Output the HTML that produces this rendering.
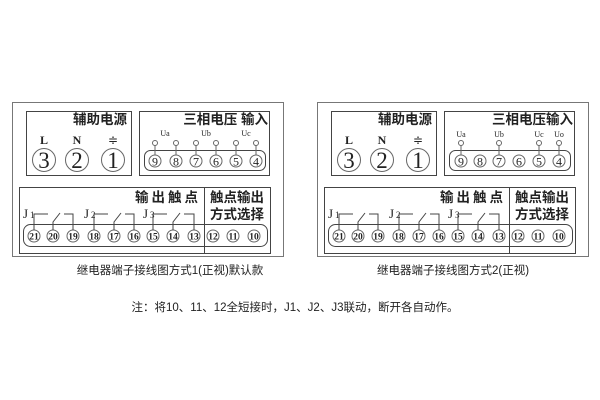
<!DOCTYPE html>
<html><head><meta charset="utf-8"><style>
body{margin:0;background:#fff;width:600px;height:400px;overflow:hidden}
svg{display:block}
text{font-family:"Liberation Serif","Noto Serif CJK SC",serif;fill:#222}
.c{font-family:"Liberation Sans","Noto Sans CJK SC",sans-serif;fill:#222}
</style></head><body>
<svg width="600" height="400" viewBox="0 0 600 400" stroke="#444" fill="none" stroke-width="1">
<defs>
<g id="D">
<rect x="12.5" y="102.5" width="271" height="154" stroke="#777"/>
<rect x="26.5" y="111.5" width="105" height="64"/>
<rect x="139.5" y="111.5" width="130" height="64"/>
<rect x="144.5" y="150.5" width="121" height="20" rx="6"/>
<rect x="19.5" y="187.5" width="251" height="66"/>
<line x1="204.5" y1="187.5" x2="204.5" y2="253.5"/>
<rect x="23.5" y="224.5" width="244" height="22" rx="7"/>
<g stroke="none">
<text class="c" x="127" y="124" font-size="13.5" font-weight="bold" text-anchor="end">辅助电源</text>
<text class="c" x="201" y="202" font-size="13.5" font-weight="bold" text-anchor="end" letter-spacing="3">输出触点</text>
<text class="c" x="237" y="202" font-size="13.5" font-weight="bold" text-anchor="middle">触点输出</text>
<text class="c" x="237" y="219" font-size="13.5" font-weight="bold" text-anchor="middle">方式选择</text>
<text x="44" y="144" font-size="12" font-weight="bold" text-anchor="middle">L</text>
<text x="77" y="144" font-size="12" font-weight="bold" text-anchor="middle">N</text>
<text x="113" y="144" font-size="12" text-anchor="middle">≑</text>
</g>
<g stroke="#666">
<circle cx="44" cy="160" r="11.5"/><circle cx="77" cy="160" r="11.5"/><circle cx="113" cy="160" r="11.5"/>
</g>
<g stroke="none" font-size="23" text-anchor="middle">
<text x="44" y="168">3</text><text x="77" y="168">2</text><text x="113" y="168">1</text>
</g>
<g stroke="#666">
<circle cx="34" cy="236" r="6"/><circle cx="53" cy="236" r="6"/><circle cx="73" cy="236" r="6"/>
<circle cx="94" cy="236" r="6"/><circle cx="114" cy="236" r="6"/><circle cx="134" cy="236" r="6"/>
<circle cx="153" cy="236" r="6"/><circle cx="173" cy="236" r="6"/><circle cx="194" cy="236" r="6"/>
<circle cx="213" cy="236" r="6"/><circle cx="233" cy="236" r="6"/><circle cx="254" cy="236" r="6"/>
</g>
<g stroke="none" font-size="9.5" font-weight="bold" text-anchor="middle">
<text x="34" y="239.5">21</text><text x="53" y="239.5">20</text><text x="73" y="239.5">19</text>
<text x="94" y="239.5">18</text><text x="114" y="239.5">17</text><text x="134" y="239.5">16</text>
<text x="153" y="239.5">15</text><text x="173" y="239.5">14</text><text x="194" y="239.5">13</text>
<text x="213" y="239.5">12</text><text x="233" y="239.5">11</text><text x="254" y="239.5">10</text>
</g>
<g stroke="none">
<text x="23" y="218" font-size="13">J</text><text x="30" y="218" font-size="9">1</text>
<text x="84" y="218" font-size="13">J</text><text x="91" y="218" font-size="9">2</text>
<text x="143" y="218" font-size="13">J</text><text x="150" y="218" font-size="9">3</text>
</g>
<path d="M34 230V214H48M53 230V222L60 213M64 214H73V230"/>
<path d="M94 230V214H108M114 230V222L121 213M125 214H134V230"/>
<path d="M153 230V214H167M173 230V222L180 213M184 214H194V230"/>
</g>
</defs>
<use href="#D"/>
<use href="#D" transform="translate(305,0)"/>
<!-- left voltage -->
<g stroke="#666">
<circle cx="155" cy="161" r="6"/><circle cx="176" cy="161" r="6"/><circle cx="196" cy="161" r="6"/>
<circle cx="216" cy="161" r="6"/><circle cx="236" cy="161" r="6"/><circle cx="256" cy="161" r="6"/>
<circle cx="155" cy="143" r="2.5"/><circle cx="176" cy="143" r="2.5"/><circle cx="196" cy="143" r="2.5"/>
<circle cx="216" cy="143" r="2.5"/><circle cx="236" cy="143" r="2.5"/><circle cx="256" cy="143" r="2.5"/>
<path d="M155 145.5V155M176 145.5V155M196 145.5V155M216 145.5V155M236 145.5V155M256 145.5V155"/>
</g>
<g stroke="none" text-anchor="middle">
<text x="165" y="136" font-size="8">Ua</text><text x="206" y="136" font-size="8">Ub</text><text x="246" y="136" font-size="8">Uc</text>
<text x="155" y="165.5" font-size="12">9</text><text x="176" y="165.5" font-size="12">8</text><text x="196" y="165.5" font-size="12">7</text>
<text x="216" y="165.5" font-size="12">6</text><text x="236" y="165.5" font-size="12">5</text><text x="256" y="165.5" font-size="12">4</text>
<text class="c" x="268" y="124" font-size="13.5" font-weight="bold" text-anchor="end">三相电压 输入</text>
</g>
<!-- right voltage -->
<g stroke="#666">
<circle cx="461" cy="161" r="6"/><circle cx="480" cy="161" r="6"/><circle cx="499" cy="161" r="6"/>
<circle cx="519" cy="161" r="6"/><circle cx="539" cy="161" r="6"/><circle cx="559" cy="161" r="6"/>
<circle cx="461" cy="143" r="2.5"/><circle cx="499" cy="143" r="2.5"/><circle cx="539" cy="143" r="2.5"/><circle cx="559" cy="143" r="2.5"/>
<path d="M461 145.5V155M499 145.5V155M539 145.5V155M559 145.5V155"/>
</g>
<g stroke="none" text-anchor="middle">
<text x="461" y="137" font-size="8">Ua</text><text x="499" y="137" font-size="8">Ub</text><text x="539" y="137" font-size="8">Uc</text><text x="559" y="137" font-size="8">Uo</text>
<text x="461" y="165.5" font-size="12">9</text><text x="480" y="165.5" font-size="12">8</text><text x="499" y="165.5" font-size="12">7</text>
<text x="519" y="165.5" font-size="12">6</text><text x="539" y="165.5" font-size="12">5</text><text x="559" y="165.5" font-size="12">4</text>
<text class="c" x="573" y="124" font-size="13.5" font-weight="bold" text-anchor="end">三相电压输入</text>
<text class="c" x="170" y="274" font-size="11.5">继电器端子接线图方式1(正视)默认款</text>
<text class="c" x="453" y="274" font-size="11.5">继电器端子接线图方式2(正视)</text>
<text class="c" x="295" y="311" font-size="11.5">注：将10、11、12全短接时，J1、J2、J3联动，断开各自动作。</text>
</g>
</svg>
</body></html>
